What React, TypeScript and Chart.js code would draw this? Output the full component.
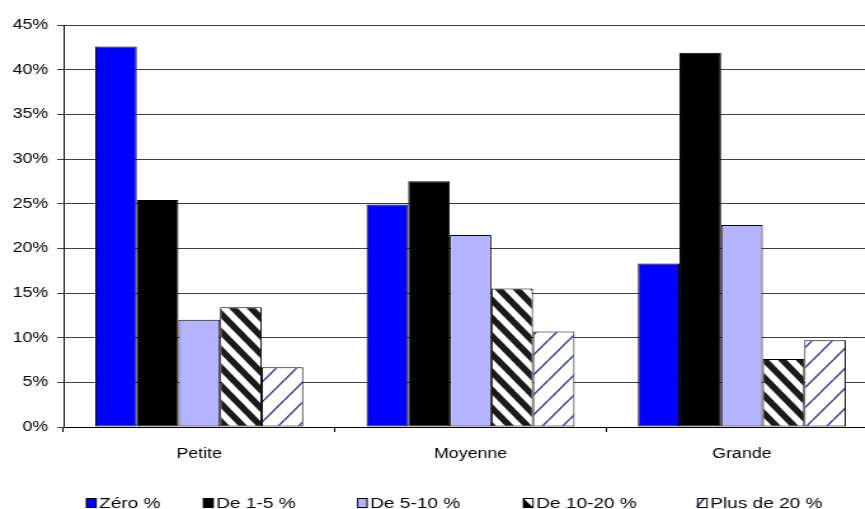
import React, { useEffect, useRef } from 'react';
import { Chart, registerables } from 'chart.js';

Chart.register(...registerables);

// ---- data ----
const categories = ['Petite', 'Moyenne', 'Grande'];
const seriesLabels = ['Zéro %', 'De 1-5 %', 'De 5-10 %', 'De 10-20 %', 'Plus de 20 %'];
const zeroPct = [42.6, 24.9, 18.3];
const de1to5 = [25.4, 27.5, 41.9];
const de5to10 = [12.0, 21.5, 22.6];
const de10to20 = [13.4, 15.5, 7.6];
const plus20 = [6.7, 10.7, 9.7];
const yMin = 0;
const yMax = 45;
const yStep = 5;

// ---- layout (the reference is horizontally stretched) ----
const STRETCH = 1.27;
const CANVAS_W = 691;
const CANVAS_H = 509;
const FONT = '"Liberation Sans", Arial, sans-serif';
const LEGEND_X = [67.7, 159.8, 281.1, 411.8, 548.8];
const LEGEND_BOX_TOP = 498;
const LEGEND_BOX_W = 8.4;
const LEGEND_BOX_H = 10;
const LEGEND_BASELINE = 507.5;

function stripePattern(): CanvasPattern | string {
  const w = 14, h = 18;
  const c = document.createElement('canvas');
  c.width = w; c.height = h;
  const g = c.getContext('2d');
  if (!g) return '#000';
  g.fillStyle = '#ffffff';
  g.fillRect(0, 0, w, h);
  g.fillStyle = '#1c1a1a';
  for (const off of [-w, 0, w]) {
    g.beginPath();
    g.moveTo(off - w / 4, 0);
    g.lineTo(off + w / 4, 0);
    g.lineTo(off + w + w / 4, h);
    g.lineTo(off + w - w / 4, h);
    g.closePath();
    g.fill();
  }
  return g.createPattern(c, 'repeat') || '#000';
}

function thinHatchPattern(): CanvasPattern | string {
  const w = 16, h = 20;
  const c = document.createElement('canvas');
  c.width = w; c.height = h;
  const g = c.getContext('2d');
  if (!g) return '#fff';
  g.fillStyle = '#ffffff';
  g.fillRect(0, 0, w, h);
  g.strokeStyle = '#2b2f93';
  g.lineWidth = 1.4;
  for (const off of [-w, 0, w]) {
    g.beginPath();
    g.moveTo(off, h);
    g.lineTo(off + w, 0);
    g.stroke();
  }
  return g.createPattern(c, 'repeat') || '#fff';
}

const legendPlugin = {
  id: 'customLegend',
  afterDraw(chart: any) {
    const ctx: CanvasRenderingContext2D = chart.ctx;
    ctx.save();
    ctx.font = `15px ${FONT}`;
    ctx.textBaseline = 'alphabetic';
    ctx.textAlign = 'left';
    chart.data.datasets.forEach((ds: any, i: number) => {
      const x = LEGEND_X[i];
      const y = LEGEND_BOX_TOP;
      const bw = LEGEND_BOX_W, bh = LEGEND_BOX_H;
      ctx.fillStyle = '#ffffff';
      ctx.fillRect(x, y, bw, bh);
      if (i === 3) {
        ctx.fillStyle = '#000';
        ctx.beginPath();
        ctx.moveTo(x, y);
        ctx.lineTo(x, y + bh);
        ctx.lineTo(x + bw, y + bh);
        ctx.closePath();
        ctx.fill();
      } else if (i === 4) {
        ctx.strokeStyle = '#2b2f93';
        ctx.lineWidth = 1.4;
        ctx.beginPath();
        ctx.moveTo(x, y + bh - 1);
        ctx.lineTo(x + bw * 0.7, y);
        ctx.stroke();
      } else {
        ctx.fillStyle = ds.legendColor;
        ctx.fillRect(x, y, bw, bh);
      }
      ctx.strokeStyle = '#000';
      ctx.lineWidth = 1;
      ctx.strokeRect(x + 0.5, y + 0.5, bw - 1, bh - 1);
      ctx.fillStyle = '#000';
      ctx.fillText(ds.label, x + bw + 2, LEGEND_BASELINE);
    });
    ctx.restore();
  },
};

export default function App() {
  const ref = useRef<HTMLCanvasElement | null>(null);

  useEffect(() => {
    const canvas = ref.current;
    if (!canvas) return;
    const colors: any[] = ['#0000ff', '#000000', '#b3b3ff', stripePattern(), thinHatchPattern()];
    const legendColors = ['#0000ff', '#000000', '#b3b3ff', '#ffffff', '#ffffff'];
    const values = [zeroPct, de1to5, de5to10, de10to20, plus20];
    const chart = new Chart(canvas, {
      type: 'bar',
      data: {
        labels: categories,
        datasets: seriesLabels.map((label, i) => ({
          label,
          data: values[i],
          backgroundColor: colors[i],
          legendColor: legendColors[i],
          borderColor: '#000000',
          borderWidth: 1,
          borderSkipped: false,
          categoryPercentage: 0.7665,
          barPercentage: 1,
        })) as any,
      },
      options: {
        responsive: false,
        animation: false,
        layout: { padding: { top: 25, right: 0, bottom: 0, left: 0 } },
        plugins: {
          legend: { display: false },
          tooltip: { enabled: false },
        },
        scales: {
          x: {
            afterFit: (s: any) => { s.height = 82; },
            grid: {
              display: true,
              drawOnChartArea: false,
              drawTicks: true,
              tickLength: 5,
              color: '#000000',
              offset: true,
            },
            border: { color: '#000000' },
            ticks: {
              color: '#000000',
              font: { family: FONT, size: 14 },
              padding: 14,
              maxRotation: 0,
            },
          },
          y: {
            min: yMin,
            max: yMax,
            afterFit: (s: any) => { s.width = 50; },
            grid: { color: '#404040', tickLength: 5, drawTicks: true },
            border: { color: '#000000' },
            ticks: {
              stepSize: yStep,
              color: '#000000',
              font: { family: FONT, size: 14 },
              padding: 7,
              callback: (v: any) => `${v}%`,
            },
          },
        },
      },
      plugins: [legendPlugin],
    });
    return () => chart.destroy();
  }, []);

  return (
    <div style={{ position: 'fixed', left: 0, top: 0, width: 865, height: 509, overflow: 'hidden', background: '#fff' }}>
      <canvas
        ref={ref}
        width={CANVAS_W}
        height={CANVAS_H}
        style={{
          display: 'block',
          width: `${CANVAS_W}px`,
          height: `${CANVAS_H}px`,
          transform: `scaleX(${STRETCH})`,
          transformOrigin: '0 0',
        }}
      />
    </div>
  );
}
